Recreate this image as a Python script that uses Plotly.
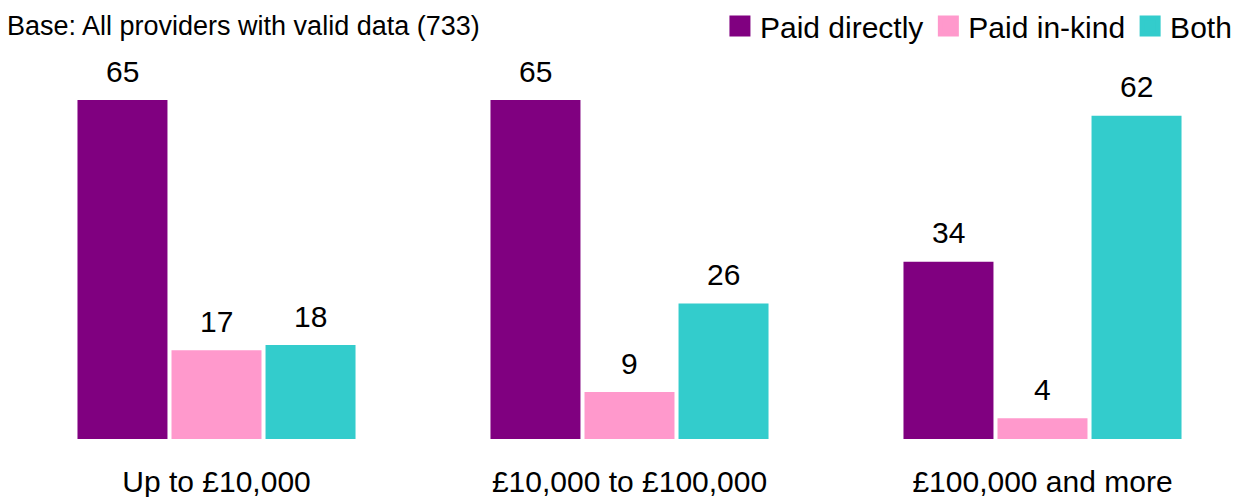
import plotly.graph_objects as go

categories = ["Up to £10,000", "£10,000 to £100,000", "£100,000 and more"]
series_names = ["Paid directly", "Paid in-kind", "Both"]
paid_directly = [65, 65, 34]
paid_in_kind = [17, 9, 4]
both = [18, 26, 62]
base_note = "Base: All providers with valid data (733)"

colors = ["#800080", "#FF99CC", "#33CCCC"]
series_values = [paid_directly, paid_in_kind, both]

FONT = "Liberation Sans, Arial, sans-serif"
W, H = 1249, 497

fig = go.Figure()
for name, vals, col in zip(series_names, series_values, colors):
    fig.add_trace(go.Bar(x=categories, y=vals, name=name, marker=dict(color=col, line=dict(width=0)),
                         showlegend=False, hoverinfo="x+y+name"))
# legend proxies with larger square swatches
for name, col in zip(series_names, colors):
    fig.add_trace(go.Scatter(x=[categories[0]], y=[None], mode="markers", name=name,
                             marker=dict(symbol="square", size=16, color=col, line=dict(color=col, width=5)),
                             showlegend=True, hoverinfo="skip"))

# value labels above each bar
step_px = 94
for j, vals in enumerate(series_values):
    for cat, v in zip(categories, vals):
        fig.add_annotation(x=cat, y=v, xref="x", yref="y", text=str(v), showarrow=False,
                           xshift=(j - 1) * step_px, yshift=29, yanchor="middle",
                           font=dict(family=FONT, size=30, color="#000000"))

fig.add_annotation(x=0, y=1, xref="paper", yref="paper", text=base_note, showarrow=False,
                   xanchor="left", yanchor="middle", xshift=-5, yshift=34,
                   font=dict(family=FONT, size=27, color="#000000"))

px_per_unit = 339 / 65
mt, mb = 60, 58
ytop = (H - mt - mb) / px_per_unit

fig.update_layout(
    width=W, height=H,
    margin=dict(l=10, r=0, t=mt, b=mb, autoexpand=False),
    paper_bgcolor="white", plot_bgcolor="white",
    barmode="group", bargap=0.317, bargroupgap=0.043,
    font=dict(family=FONT, size=30, color="#000000"),
    showlegend=True,
    legend=dict(orientation="h", x=0.573, xanchor="left", y=1, yanchor="top", yref="container",
                font=dict(family=FONT, size=30), itemsizing="trace", bgcolor="rgba(0,0,0,0)",
                tracegroupgap=0),
    xaxis=dict(showgrid=False, zeroline=False, showline=False, ticks="",
               tickfont=dict(family=FONT, size=30), ticklabelstandoff=22, automargin=False),
    yaxis=dict(range=[0, ytop], visible=False, showgrid=False, zeroline=False, automargin=False),
)

fig.write_html("out.html", config={"displayModeBar": False},
               post_script="document.body.style.margin='0';document.body.style.overflow='hidden';")
